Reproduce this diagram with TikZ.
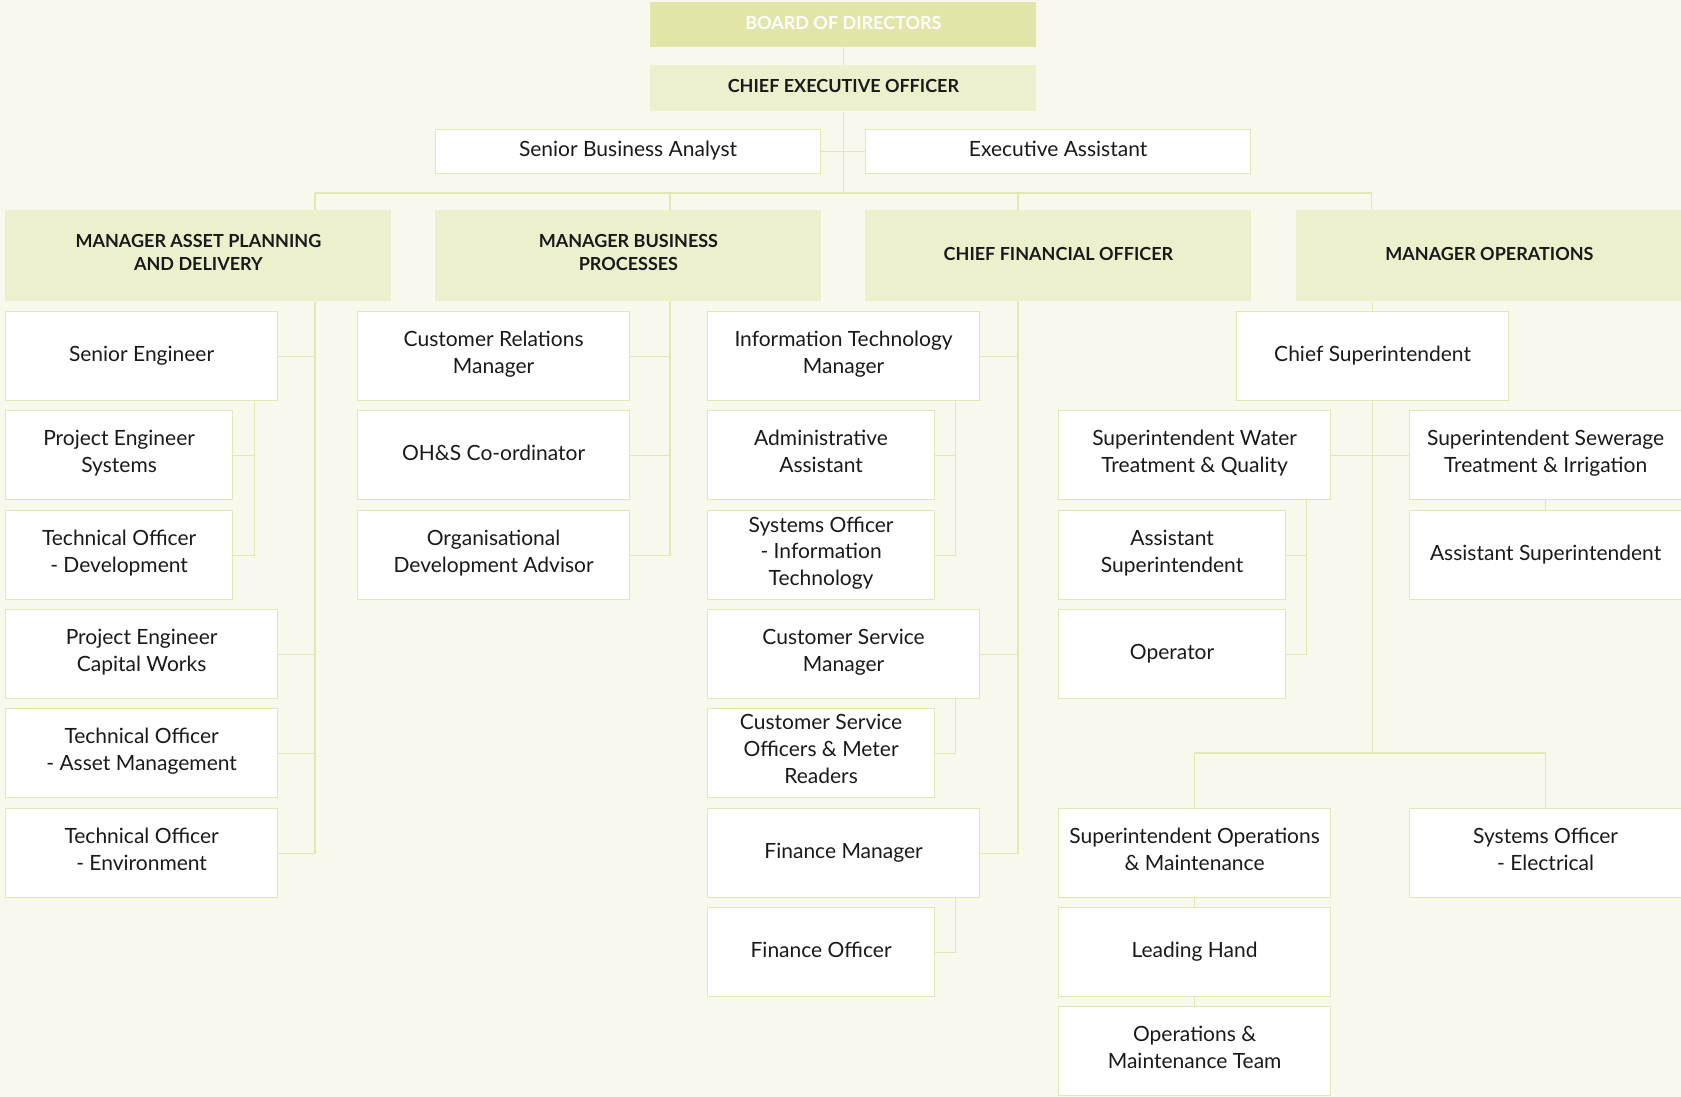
\documentclass[tikz,border=0pt]{standalone}
\usepackage{fontspec}
\setmainfont{Lato}
\usetikzlibrary{calc}

\definecolor{pagebg}{HTML}{F8F8EC}
\definecolor{boardfill}{HTML}{E1E6A8}
\definecolor{headfill}{HTML}{EDF0CC}
\definecolor{linegreen}{HTML}{E2E8B2}
\definecolor{inktext}{HTML}{1A1A1A}

\begin{document}
\begin{tikzpicture}[
    x=0.5pt, y=-0.5pt,
    every node/.style={font=\fontsize{10.5}{13.4}\selectfont, text=inktext,
        inner sep=1pt, align=center, anchor=north west,
        execute at begin node=\strut, execute at end node=\strut},
    link/.style={draw=linegreen, line width=0.6pt},
    topbox/.style={fill=boardfill, text=white, minimum width=193pt,
        minimum height=22.5pt, font=\bfseries\fontsize{9}{11.3}\selectfont},
    headbox/.style={fill=headfill, minimum width=193pt,
        font=\bfseries\fontsize{9}{11.3}\selectfont},
    mgrbox/.style={headbox, minimum height=45.5pt},
    staff/.style={fill=white, draw=linegreen, line width=0.6pt},
    wide/.style={staff, minimum width=136pt, minimum height=44.5pt},
    narrow/.style={staff, minimum width=113.5pt, minimum height=44.5pt}
]

\fill[pagebg] (0,0) rectangle (1681,1097);
\useasboundingbox (0,0) rectangle (1681,1097);

%======================
% Bus coordinates
%======================

\coordinate (t1) at (315,193);
\coordinate (t2) at (670,193);
\coordinate (t3) at (1018,193);
\coordinate (t4) at (1371.5,193);

\coordinate (s1) at (254.5,0);
\coordinate (s3) at (955.5,0);
\coordinate (s4) at (1306.5,0);
\coordinate (ops) at (0,753);

%======================
% Top of the chart
%======================

\node[topbox] (board) at (650,2) {BOARD OF DIRECTORS};
\node[headbox, minimum height=23pt] (ceo) at (650,65) {CHIEF EXECUTIVE OFFICER};

\node[staff, minimum width=192.5pt, minimum height=22pt] (sba) at (435,129)
    {Senior Business Analyst};
\node[staff, minimum width=192.5pt, minimum height=22pt] (ea) at (865,129)
    {Executive Assistant};

%======================
% Managers
%======================

\node[mgrbox] (map) at (5,210)    {MANAGER ASSET PLANNING\\AND DELIVERY};
\node[mgrbox] (mbp) at (435,210)  {MANAGER BUSINESS\\PROCESSES};
\node[mgrbox] (cfo) at (865,210)  {CHIEF FINANCIAL OFFICER};
\node[mgrbox] (mo)  at (1296,210) {MANAGER OPERATIONS};

%======================
% Asset planning column
%======================

\node[wide]   (se)  at (5,311)  {Senior Engineer};
\node[narrow] (pes) at (5,410)  {Project Engineer\\Systems};
\node[narrow] (tod) at (5,510)  {Technical Officer\\- Development};
\node[wide]   (pec) at (5,609)  {Project Engineer\\Capital Works};
\node[wide]   (toa) at (5,708)  {Technical Officer\\- Asset Management};
\node[wide]   (toe) at (5,808)  {Technical Officer\\- Environment};

%======================
% Business processes column
%======================

\node[wide] (crm) at (357,311) {Customer Relations\\Manager};
\node[wide] (ohs) at (357,410) {OH\&S Co-ordinator};
\node[wide] (oda) at (357,510) {Organisational\\Development Advisor};

%======================
% Finance column
%======================

\node[wide]   (itm)  at (707,311) {Information Technology\\Manager};
\node[narrow] (aa)   at (707,410) {Administrative\\Assistant};
\node[narrow] (soit) at (707,510) {Systems Officer\\- Information\\Technology};
\node[wide]   (csm)  at (707,609) {Customer Service\\Manager};
\node[narrow] (cso)  at (707,708) {Customer Service\\Officers \& Meter\\Readers};
\node[wide]   (fm)   at (707,808) {Finance Manager};
\node[narrow] (fo)   at (707,907) {Finance Officer};

%======================
% Operations column
%======================

\node[wide]   (cs)  at (1236,311) {Chief Superintendent};
\node[wide]   (swt) at (1058,410) {Superintendent Water\\Treatment \& Quality};
\node[narrow] (asl) at (1058,510) {Assistant\\Superintendent};
\node[narrow] (opr) at (1058,609) {Operator};
\node[wide]   (ssi) at (1409,410) {Superintendent Sewerage\\Treatment \& Irrigation};
\node[wide]   (asr) at (1409,510) {Assistant Superintendent};
\node[wide]   (som) at (1058,808) {Superintendent Operations\\\& Maintenance};
\node[wide]   (soe) at (1409,808) {Systems Officer\\- Electrical};
\node[wide]   (lh)  at (1058,907) {Leading Hand};
\node[wide]   (omt) at (1058,1006) {Operations \&\\Maintenance Team};

%======================
% Connectors
%======================

% top
\draw[link] (board.south) -- (ceo.north);
\draw[link] (ceo.south) -- (ceo.south |- t1);
\draw[link] (sba.east) -- (ea.west);
\draw[link] (t1) -- (t4);

% asset planning
\draw[link] (t1) -- (t1 |- map.north);
\draw[link] (map.south -| t1) |- (toe.east);
\draw[link] (se.east) -- (se.east -| t1);
\draw[link] (pec.east) -- (pec.east -| t1);
\draw[link] (toa.east) -- (toa.east -| t1);
\draw[link] (se.south -| s1) |- (tod.east);
\draw[link] (pes.east) -- (pes.east -| s1);

% business processes
\draw[link] (t2) -- (t2 |- mbp.north);
\draw[link] (mbp.south -| t2) |- (oda.east);
\draw[link] (crm.east) -- (crm.east -| t2);
\draw[link] (ohs.east) -- (ohs.east -| t2);

% finance
\draw[link] (t3) -- (t3 |- cfo.north);
\draw[link] (cfo.south -| t3) |- (fm.east);
\draw[link] (itm.east) -- (itm.east -| t3);
\draw[link] (csm.east) -- (csm.east -| t3);
\draw[link] (itm.south -| s3) |- (soit.east);
\draw[link] (aa.east) -- (aa.east -| s3);
\draw[link] (csm.south -| s3) |- (cso.east);
\draw[link] (fm.south -| s3) |- (fo.east);

% operations
\draw[link] (t4) -- (t4 |- mo.north);
\draw[link] (cs.north |- mo.south) -- (cs.north);
\draw[link] (cs.south) -- (cs.south |- ops);
\draw[link] (som.north |- ops) -- (soe.north |- ops);
\draw[link] (som.north |- ops) -- (som.north);
\draw[link] (soe.north |- ops) -- (soe.north);
\draw[link] (swt.east) -- (ssi.west);
\draw[link] (swt.south -| s4) |- (opr.east);
\draw[link] (asl.east) -- (asl.east -| s4);
\draw[link] (ssi.south) -- (asr.north);
\draw[link] (som.south) -- (lh.north);
\draw[link] (lh.south) -- (omt.north);

\end{tikzpicture}
\end{document}
